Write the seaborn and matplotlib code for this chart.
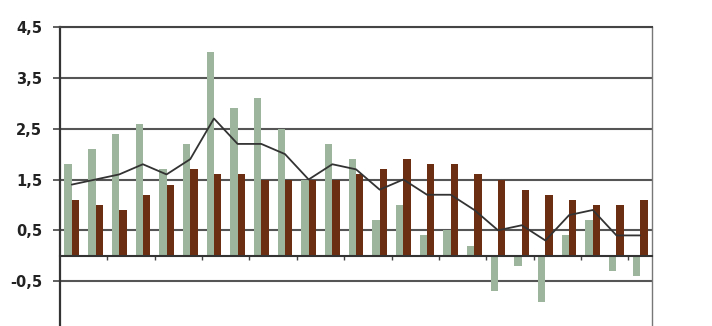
import numpy as np
import pandas as pd
import matplotlib
matplotlib.use("Agg")
import matplotlib.pyplot as plt
import seaborn as sns

categories = [str(i) for i in range(1, 26)]
series_a = [1.8, 2.1, 2.4, 2.6, 1.7, 2.2, 4.0, 2.9, 3.1, 2.5, 1.5, 2.2, 1.9,
            0.7, 1.0, 0.4, 0.5, 0.2, -0.7, -0.2, -0.9, 0.4, 0.7, -0.3, -0.4]
series_b = [1.1, 1.0, 0.9, 1.2, 1.4, 1.7, 1.6, 1.6, 1.5, 1.5, 1.5, 1.5, 1.6,
            1.7, 1.9, 1.8, 1.8, 1.6, 1.5, 1.3, 1.2, 1.1, 1.0, 1.0, 1.1]
line_vals = [1.4, 1.5, 1.6, 1.8, 1.6, 1.9, 2.7, 2.2, 2.2, 2.0, 1.5, 1.8, 1.7,
             1.3, 1.5, 1.2, 1.2, 0.9, 0.5, 0.6, 0.3, 0.8, 0.9, 0.4, 0.4]
yticks = [4.5, 3.5, 2.5, 1.5, 0.5, -0.5, -1.5]
ytick_labels = ["4,5", "3,5", "2,5", "1,5", "0,5", "-0,5", "-1,5"]

df = pd.DataFrame({
    "cat": categories * 2,
    "value": series_a + series_b,
    "series": ["A"] * len(categories) + ["B"] * len(categories),
})

sns.set_style("white")
plt.rcParams["font.family"] = ["DejaVu Sans"]

fig = plt.figure(figsize=(7.12, 3.26), dpi=100)
ax = fig.add_axes([60 / 712, (326 - 332) / 326, 592 / 712, (332 - 27) / 326])

sns.barplot(data=df, x="cat", y="value", hue="series", order=categories,
            palette={"A": "#9db59c", "B": "#6c2e12"}, width=0.62, dodge=True,
            saturation=1, legend=False, ax=ax, zorder=3,
            linewidth=0, edgecolor="none")
sns.lineplot(x=np.arange(len(categories)), y=line_vals, color="#333333",
             lw=1.3, ax=ax, zorder=4)

ax.set_xlim(-0.5, len(categories) - 0.5)
ax.set_ylim(-1.5, 4.5)
ax.set_yticks(yticks)
ax.set_yticklabels(ytick_labels, fontsize=10.5, fontweight="bold", color="#222222")
ax.set_xticks(np.arange(1.5, len(categories) - 1, 2))
ax.set_xticklabels([])
ax.set_xlabel("")
ax.set_ylabel("")
ax.tick_params(axis="y", direction="out", length=5, width=1.2, color="#444444", pad=8, left=True)
ax.tick_params(axis="x", direction="out", length=3, width=1, color="#444444", bottom=True)

ax.yaxis.grid(True, color="#555555", lw=1.5, zorder=0)
ax.set_axisbelow(True)
ax.spines["bottom"].set_position(("data", 0))
ax.spines["bottom"].set_color("#333333")
ax.spines["bottom"].set_linewidth(1.5)
ax.spines["bottom"].set_zorder(5)
ax.spines["left"].set_color("#333333")
ax.spines["left"].set_linewidth(1.6)
ax.spines["top"].set_color("#444444")
ax.spines["top"].set_linewidth(1.5)
ax.spines["right"].set_color("#777777")
ax.spines["right"].set_linewidth(1.0)

fig.savefig("out.png", dpi=100)
